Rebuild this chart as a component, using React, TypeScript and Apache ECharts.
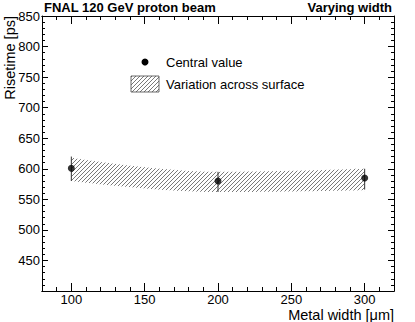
import React, { useEffect, useRef } from "react";
import * as echarts from "echarts";

const widths = [100, 200, 300];
const central = [601, 580, 585];
const errLow = [580, 562, 566];
const errHigh = [620, 595, 600];
const bandLow = [580, 562, 565];
const bandHigh = [618, 595, 600];
const xMajor = [100, 150, 200, 250, 300];
const xMinor = [80, 90, 110, 120, 130, 140, 160, 170, 180, 190, 210, 220, 230, 240, 260, 270, 280, 290, 310, 320];

const FONT = "Liberation Sans, Arial, Helvetica, sans-serif";

const hatchSvg =
  "data:image/svg+xml;utf8," +
  encodeURIComponent(
    '<svg xmlns="http://www.w3.org/2000/svg" width="4" height="4"><path d="M-1,5 L5,-1 M-1,1 L1,-1 M3,5 L5,3" stroke="#6a6a6a" stroke-width="0.9"/></svg>'
  );
const hatch: any = { image: hatchSvg, repeat: "repeat", imageWidth: 4, imageHeight: 4 };

export default function App() {
  const ref = useRef<HTMLDivElement>(null);
  useEffect(() => {
    document.body.style.margin = "0";
    const chart = echarts.init(ref.current!, null, { renderer: "svg" });
    const axLine = { show: true, onZero: false, lineStyle: { color: "#000", width: 1 } };
    const mkX = (pos: any, vals: number[], len: number, labels: boolean) => ({
      type: "value",
      position: pos,
      min: 80,
      max: 320,
      z: 10,
      axisLine: axLine,
      splitLine: { show: false },
      axisTick: { show: true, inside: true, length: len, customValues: vals, lineStyle: { color: "#000" } },
      axisLabel: labels
        ? { show: true, customValues: xMajor, color: "#000", fontFamily: FONT, fontSize: 13, margin: 2 }
        : { show: false },
    });
    const mkY = (pos: any, labels: boolean) => ({
      type: "value",
      position: pos,
      min: 400,
      max: 850,
      interval: 50,
      z: 10,
      axisLine: axLine,
      splitLine: { show: false },
      axisTick: { show: true, inside: true, length: 6, lineStyle: { color: "#000" } },
      minorTick: { show: true, splitNumber: 5, length: 3, lineStyle: { color: "#000" } },
      axisLabel: labels
        ? {
            show: true,
            color: "#000",
            fontFamily: FONT,
            fontSize: 13,
            margin: 2,
            formatter: (v: number) => (v === 400 ? "" : String(v)),
          }
        : { show: false },
    });
    chart.setOption({
      animation: false,
      grid: { left: 42, right: 21, top: 16, bottom: 31, outerBoundsMode: "none" },
      xAxis: [
        mkX("bottom", xMajor, 8, true),
        mkX("bottom", xMinor, 4, false),
        mkX("top", xMajor, 8, false),
        mkX("top", xMinor, 4, false),
      ],
      yAxis: [mkY("left", true), mkY("right", false)],
      series: [
        {
          type: "line",
          data: widths.map((w, i) => [w, bandHigh[i]]),
          smooth: 0.4,
          symbol: "none",
          lineStyle: { width: 0, opacity: 0 },
          areaStyle: { color: hatch, opacity: 1, origin: "start" },
          silent: true,
          z: 2,
        },
        {
          type: "line",
          data: widths.map((w, i) => [w, bandLow[i]]),
          smooth: 0.4,
          symbol: "none",
          lineStyle: { width: 0, opacity: 0 },
          areaStyle: { color: "#fff", opacity: 1, origin: "start" },
          silent: true,
          z: 3,
        },
        {
          type: "custom",
          data: widths.map((w, i) => [w, errLow[i], errHigh[i], bandLow[i]]),
          renderItem: (params: any, api: any) => {
            const p1 = api.coord([api.value(0), api.value(1)]);
            const p2 = api.coord([api.value(0), api.value(2)]);
            const m1 = api.coord([api.value(0), api.value(3)]);
            const m2 = api.coord([api.value(0), 400]);
            return {
              type: "group",
              children: [
                {
                  type: "line",
                  shape: { x1: m1[0], y1: m1[1] + 1, x2: m2[0], y2: m2[1] },
                  style: { stroke: "#fff", lineWidth: 3 },
                },
                {
                  type: "line",
                  shape: { x1: p1[0], y1: p1[1], x2: p2[0], y2: p2[1] },
                  style: { stroke: "#333", lineWidth: 1 },
                },
              ],
            };
          },
          z: 5,
        },
        {
          type: "scatter",
          data: widths.map((w, i) => [w, central[i]]),
          symbol: "circle",
          symbolSize: 7,
          itemStyle: { color: "#000" },
          z: 6,
        },
      ],
      graphic: [
        {
          type: "text",
          left: 44,
          top: 1,
          style: { text: "FNAL 120 GeV proton beam", font: `bold 13px ${FONT}`, fill: "#000" },
        },
        {
          type: "text",
          right: 23,
          top: 1,
          style: { text: "Varying width", font: `bold 13px ${FONT}`, fill: "#000" },
        },
        {
          type: "text",
          right: 21,
          top: 307,
          style: { text: "Metal width [\u03bcm]", font: `14.5px ${FONT}`, fill: "#000" },
        },
        {
          type: "text",
          x: 2,
          y: 16,
          rotation: Math.PI / 2,
          style: { text: "Risetime [ps]", font: `14.5px ${FONT}`, fill: "#000", align: "right", verticalAlign: "top" },
        },
        { type: "circle", shape: { cx: 145, cy: 62, r: 3.5 }, style: { fill: "#000" } },
        {
          type: "text",
          x: 166,
          y: 62,
          style: { text: "Central value", font: `13px ${FONT}`, fill: "#000", verticalAlign: "middle" },
        },
        {
          type: "rect",
          shape: { x: 131, y: 76, width: 28, height: 16 },
          style: { fill: hatch, stroke: "#444", lineWidth: 0.8 },
        },
        {
          type: "text",
          x: 166,
          y: 84,
          style: { text: "Variation across surface", font: `13px ${FONT}`, fill: "#000", verticalAlign: "middle" },
        },
      ],
    });
    return () => chart.dispose();
  }, []);
  return <div ref={ref} style={{ width: 415, height: 322 }} />;
}
